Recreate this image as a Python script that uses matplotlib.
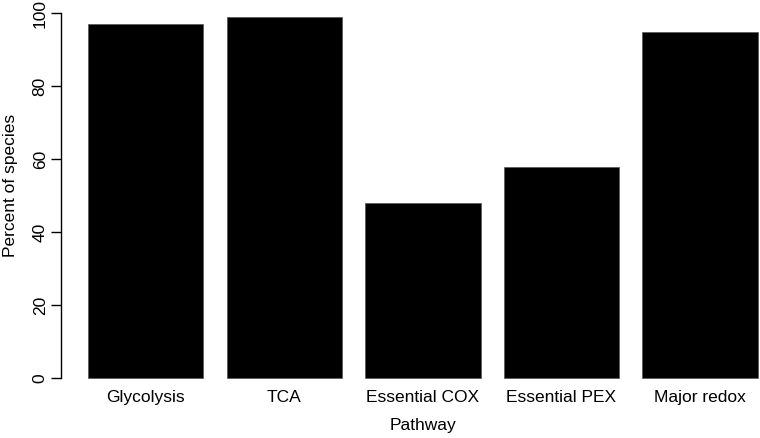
import matplotlib
matplotlib.use("Agg")
import matplotlib.pyplot as plt
import numpy as np

categories = ["Glycolysis", "TCA", "Essential COX", "Essential PEX", "Major redox"]
values = [97, 99, 48, 58, 95]
yticks = [0, 20, 40, 60, 80, 100]
xlabel = "Pathway"
ylabel = "Percent of species"

plt.rcParams['font.family'] = ['Liberation Sans', 'DejaVu Sans']
FS = 12.5

W, H = 760, 438
fig = plt.figure(figsize=(W / 100, H / 100), dpi=100)

# plot region in pixels (R-style barplot, partly cropped on the right)
left_px, right_px = 61.2, 784.7
top_px, bottom_px = 2.5, 392.8
ax = fig.add_axes([left_px / W, 1 - bottom_px / H,
                   (right_px - left_px) / W, (bottom_px - top_px) / H])

width = 1.0
space = 0.2
n = len(values)
lefts = space + np.arange(n) * (width + space)
centers = lefts + width / 2
ax.bar(centers, values, width=width, color='black', edgecolor='#555555', linewidth=0.5)

xmin, xmax = space, n * (width + space)
pad = 0.04 * (xmax - xmin)
ax.set_xlim(xmin - pad, xmax + pad)
ymax = max(values)
ax.set_ylim(-0.04 * ymax, ymax * 1.04)

for s in ['top', 'right', 'bottom']:
    ax.spines[s].set_visible(False)
ax.spines['left'].set_bounds(yticks[0], yticks[-1])
ax.spines['left'].set_linewidth(1.0)
ax.spines['left'].set_color('black')

ax.set_yticks(yticks)
ax.set_yticklabels([str(t) for t in yticks], fontsize=FS)
ax.tick_params(axis='y', direction='out', length=7.2, width=1.0, pad=2.5, colors='black')
for lbl in ax.get_yticklabels():
    lbl.set_rotation(90)
    lbl.set_va('center')
    lbl.set_ha('right')

ax.set_xticks([])
trans = matplotlib.transforms.blended_transform_factory(ax.transData, ax.transAxes)
base_y = -(402.3 - bottom_px) / (bottom_px - top_px)
for c, name in zip(centers, categories):
    ax.text(c, base_y, name, transform=trans, ha='center', va='baseline', fontsize=FS)

ax.set_xlabel(xlabel, fontsize=FS, va='baseline')
ax.xaxis.set_label_coords(0.5, -(430 - bottom_px) / (bottom_px - top_px))
ax.set_ylabel(ylabel, fontsize=FS)
ax.yaxis.set_label_coords((18 - left_px) / (right_px - left_px),
                          (bottom_px - 185) / (bottom_px - top_px))

fig.savefig("out.png", dpi=100)
